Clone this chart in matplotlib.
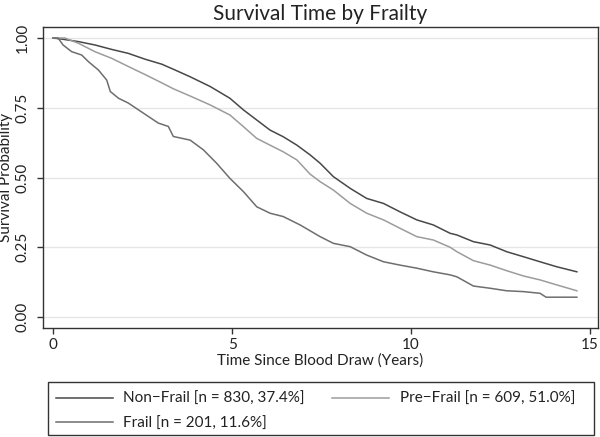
import matplotlib
matplotlib.use("Agg")
import matplotlib.pyplot as plt
from matplotlib.patches import Rectangle

plt.rcParams['font.family'] = ['Lato', 'DejaVu Sans']

# ---- data ----
nonfrail_t = [0, 0.3, 0.71, 1.17, 1.64, 2.1, 2.57, 3.04, 3.36, 3.83, 4.39, 4.94, 5.32, 5.69,
              6.06, 6.43, 6.81, 7.18, 7.46, 7.83, 8.3, 8.76, 9.23, 9.69, 10.16, 10.62, 11.09,
              11.28, 11.74, 12.21, 12.67, 13.14, 13.6, 14.07, 14.63]
nonfrail_s = [1.0, 0.995, 0.987, 0.975, 0.959, 0.945, 0.924, 0.906, 0.888, 0.861, 0.826, 0.784,
              0.742, 0.706, 0.670, 0.646, 0.616, 0.581, 0.551, 0.503, 0.461, 0.425, 0.407, 0.377,
              0.348, 0.330, 0.300, 0.294, 0.270, 0.258, 0.234, 0.216, 0.198, 0.180, 0.162]

prefrail_t = [0, 0.33, 0.71, 1.17, 1.64, 2.1, 2.57, 3.04, 3.36, 3.83, 4.39, 4.94, 5.32, 5.69,
              6.06, 6.43, 6.81, 7.18, 7.46, 7.83, 8.3, 8.76, 9.23, 9.69, 10.16, 10.62, 11.09,
              11.28, 11.74, 12.21, 12.67, 13.14, 13.6, 14.07, 14.63]
prefrail_s = [1.0, 1.0, 0.981, 0.951, 0.927, 0.898, 0.869, 0.839, 0.818, 0.792, 0.760, 0.724,
              0.682, 0.640, 0.616, 0.592, 0.563, 0.512, 0.485, 0.455, 0.407, 0.372, 0.348, 0.318,
              0.288, 0.276, 0.250, 0.234, 0.202, 0.186, 0.166, 0.147, 0.133, 0.115, 0.094]

frail_t = [0, 0.14, 0.28, 0.52, 0.8, 0.99, 1.27, 1.5, 1.6, 1.83, 2.1, 2.38, 2.66, 2.94, 3.22,
           3.36, 3.83, 4.2, 4.57, 4.94, 5.32, 5.69, 6.06, 6.43, 6.9, 7.46, 7.83, 8.3, 8.76, 9.23,
           9.69, 10.16, 10.62, 11.09, 11.28, 11.74, 12.21, 12.67, 13.14, 13.6, 13.77, 14.63]
frail_s = [1.0, 1.0, 0.975, 0.951, 0.939, 0.915, 0.885, 0.849, 0.808, 0.784, 0.767, 0.743, 0.719,
           0.695, 0.683, 0.647, 0.634, 0.599, 0.551, 0.497, 0.449, 0.395, 0.372, 0.360, 0.330,
           0.288, 0.264, 0.252, 0.222, 0.198, 0.186, 0.175, 0.162, 0.151, 0.144, 0.111, 0.103,
           0.094, 0.091, 0.085, 0.071, 0.071]

labels = ["Non\u2212Frail [n = 830, 37.4%]", "Pre\u2212Frail [n = 609, 51.0%]", "Frail [n = 201, 11.6%]"]
x_ticks = [0, 5, 10, 15]
y_ticks = [0.0, 0.25, 0.5, 0.75, 1.0]
y_ticklabels = ["0.00", "0.25", "0.50", "0.75", "1.00"]

# ---- figure ----
W, H = 600, 437
fig = plt.figure(figsize=(W / 100, H / 100), dpi=100)
ax = fig.add_axes([43 / W, 1 - 328 / H, (598 - 43) / W, (328 - 27) / H])

c_non, c_pre, c_frail = "#484848", "#9c9c9c", "#6e6e6e"
lw = 1.1
l1, = ax.plot(nonfrail_t, nonfrail_s, color=c_non, lw=lw)
l2, = ax.plot(prefrail_t, prefrail_s, color=c_pre, lw=lw)
l3, = ax.plot(frail_t, frail_s, color=c_frail, lw=lw)

ax.set_xlim(-0.28, 15.22)
ax.set_ylim(-0.0394, 1.0394)
ax.set_xticks(x_ticks)
ax.set_yticks(y_ticks)
ax.set_yticklabels(y_ticklabels, rotation=90, va='center')
for y in y_ticks:
    ax.axhline(y, color="#e6e6e6", lw=1.0, zorder=0)

for s in ax.spines.values():
    s.set_color("#333333")
    s.set_linewidth(1.0)
ax.tick_params(axis='both', colors="#333333", length=4.5, width=1.0, labelsize=11,
               labelcolor="#222222")
ax.tick_params(axis='y', pad=5)
ax.tick_params(axis='x', pad=3)

ax.set_title("Survival Time by Frailty", fontsize=15, color="#222222", pad=5)
ax.set_xlabel("Time Since Blood Draw (Years)", fontsize=11, color="#222222", labelpad=1)
ax.set_ylabel("Survival Probability", fontsize=11, color="#222222")
ax.yaxis.set_label_coords((13 - 43) / (598 - 43), 0.5)

# legend frame
fig.patches.append(Rectangle((48 / W, 1 - 435 / H), (594 - 48) / W, (435 - 382) / H,
                             transform=fig.transFigure, fill=False, edgecolor="#333333",
                             linewidth=1.0))
leg = fig.legend([l1, l3, l2], [labels[0], labels[2], labels[1]], ncol=2,
                 loc='upper left', bbox_to_anchor=(56 / W, 1 - 392 / H, (575 - 56) / W, 0.0),
                 mode='expand', frameon=False, borderpad=0, borderaxespad=0,
                 handlelength=3.7, handletextpad=0.7, labelspacing=0.7, fontsize=11,
                 labelcolor="#222222")

fig.savefig("out.png", dpi=100)
